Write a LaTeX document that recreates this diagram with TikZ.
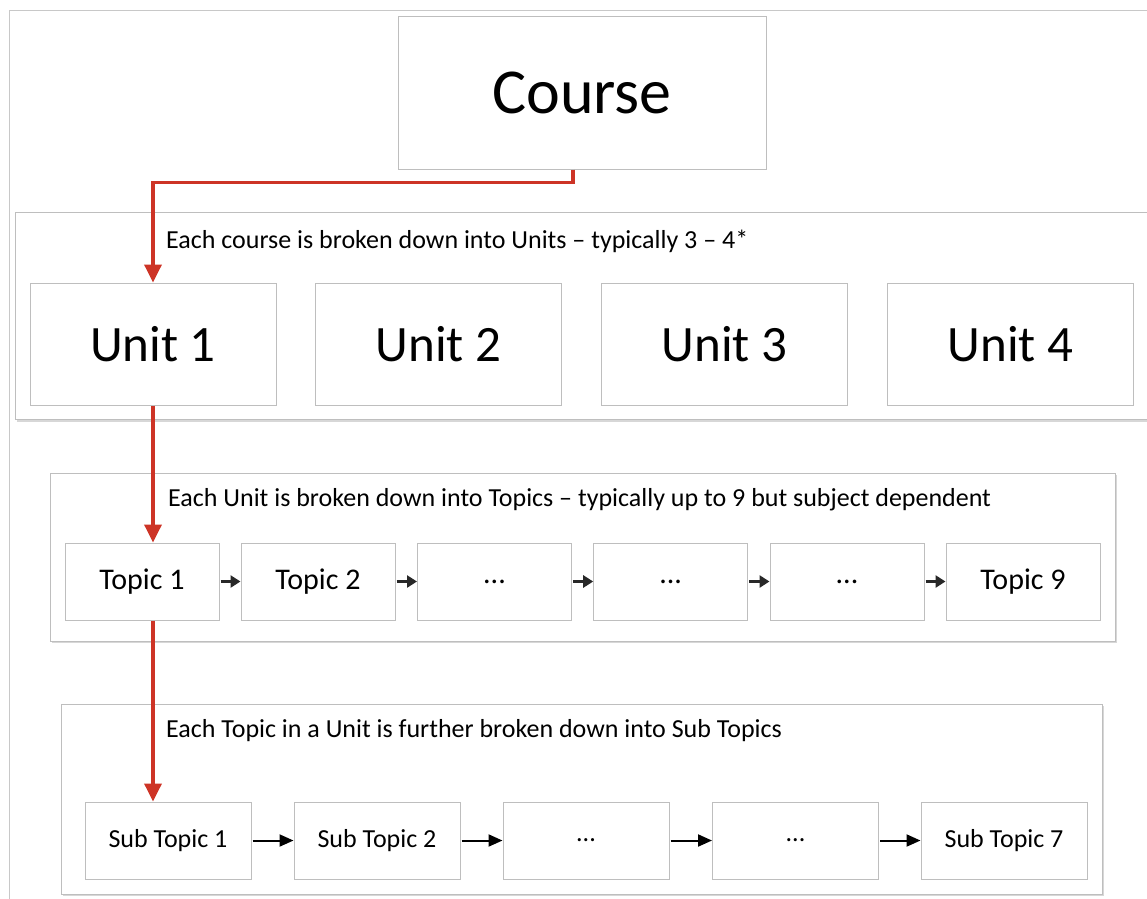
\documentclass[tikz,border=0pt]{standalone}
\usepackage{fontspec}
\setmainfont{Carlito}
\usetikzlibrary{arrows.meta}
\definecolor{boxgray}{RGB}{190,190,190}
\definecolor{framegray}{RGB}{200,200,200}
\definecolor{shadowgray}{RGB}{215,215,215}
\definecolor{redline}{RGB}{205,52,38}
\definecolor{darkarrow}{RGB}{40,40,40}
\newcommand{\tdots}{...}
\tikzset{
  box/.style={draw=boxgray, line width=1pt, fill=white, inner sep=0pt},
  panel/.style={draw=boxgray, line width=1pt, fill=white, inner sep=0pt},
  redarrow/.style={draw=redline, line width=3.5pt, -{Triangle[length=18pt,width=17pt]}},
  flowarrow/.style={draw=darkarrow, line width=2.8pt, -{Triangle[length=10pt,width=12pt]}},
  subarrow/.style={draw=black, line width=2pt, -{Triangle[length=14pt,width=12pt]}},
  desc/.style={anchor=west, inner sep=0pt, font=\fontsize{26}{30}\selectfont}
}
\begin{document}
\begin{tikzpicture}[x=1pt,y=-1pt]
\useasboundingbox (0,0) rectangle (1147,898);
\fill[white] (0,0) rectangle (1147,898);
% outer frame
\draw[framegray, line width=1pt] (9,10) rectangle (1170,920);
% course
\node[box, minimum width=368pt, minimum height=153pt, font=\fontsize{64}{74}\selectfont] (c) at (582,92.5) {Course};
% units panel
\fill[shadowgray] (17,214) rectangle (1170,422);
\node[panel, minimum width=1155pt, minimum height=207pt] (p1) at (592.5,315.5) {};
\node[desc] (d1) at (166,241) {Each course is broken down into Units -- typically 3 -- 4*};
\foreach \i/\x in {1/153,2/438.5,3/724.5,4/1010.5}{
  \node[box, minimum width=246pt, minimum height=122pt, font=\fontsize{51}{60}\selectfont] (u\i) at (\x,344) {Unit \i};
}
% topics panel
\fill[shadowgray] (52,475) rectangle (1117,643);
\node[panel, minimum width=1065pt, minimum height=168pt] (p2) at (582.5,557) {};
\node[desc] (d2) at (168,500) {Each Unit is broken down into Topics -- typically up to 9 but subject dependent};
\foreach \i/\x/\t in {1/142/Topic 1,2/318/Topic 2,3/494.5/\tdots,4/670.7/\tdots,5/847/\tdots,6/1023/Topic 9}{
  \node[box, minimum width=154pt, minimum height=77pt, font=\fontsize{30}{36}\selectfont] (t\i) at (\x,581.5) {\t};
}
\foreach \a/\b in {1/2,2/3,3/4,4/5,5/6}{
  \draw[flowarrow] ([xshift=1pt]t\a.east) -- (t\b.west);
}
% subtopics panel
\fill[shadowgray] (63,706) rectangle (1104,896);
\node[panel, minimum width=1041pt, minimum height=190pt] (p3) at (581.5,799) {};
\node[desc] (d3) at (166,731) {Each Topic in a Unit is further broken down into Sub Topics};
\foreach \i/\x/\t in {1/168/Sub Topic 1,2/377/Sub Topic 2,3/586/\tdots,4/795.5/\tdots,5/1004/Sub Topic 7}{
  \node[box, minimum width=166pt, minimum height=77pt, font=\fontsize{26}{31}\selectfont] (s\i) at (\x,840.5) {\t};
}
\foreach \a/\b in {1/2,2/3,3/4,4/5}{
  \draw[subarrow] ([xshift=1pt]s\a.east) -- (s\b.west);
}
% red arrows
\draw[redarrow] ([xshift=-9pt]c.south) -- ++(0,13) -| (u1.north);
\draw[redarrow] (u1.south) -- (u1.south |- t1.north);
\draw[redarrow] (t1.south -| u1.south) -- (u1.south |- s1.north);
\end{tikzpicture}
\end{document}
